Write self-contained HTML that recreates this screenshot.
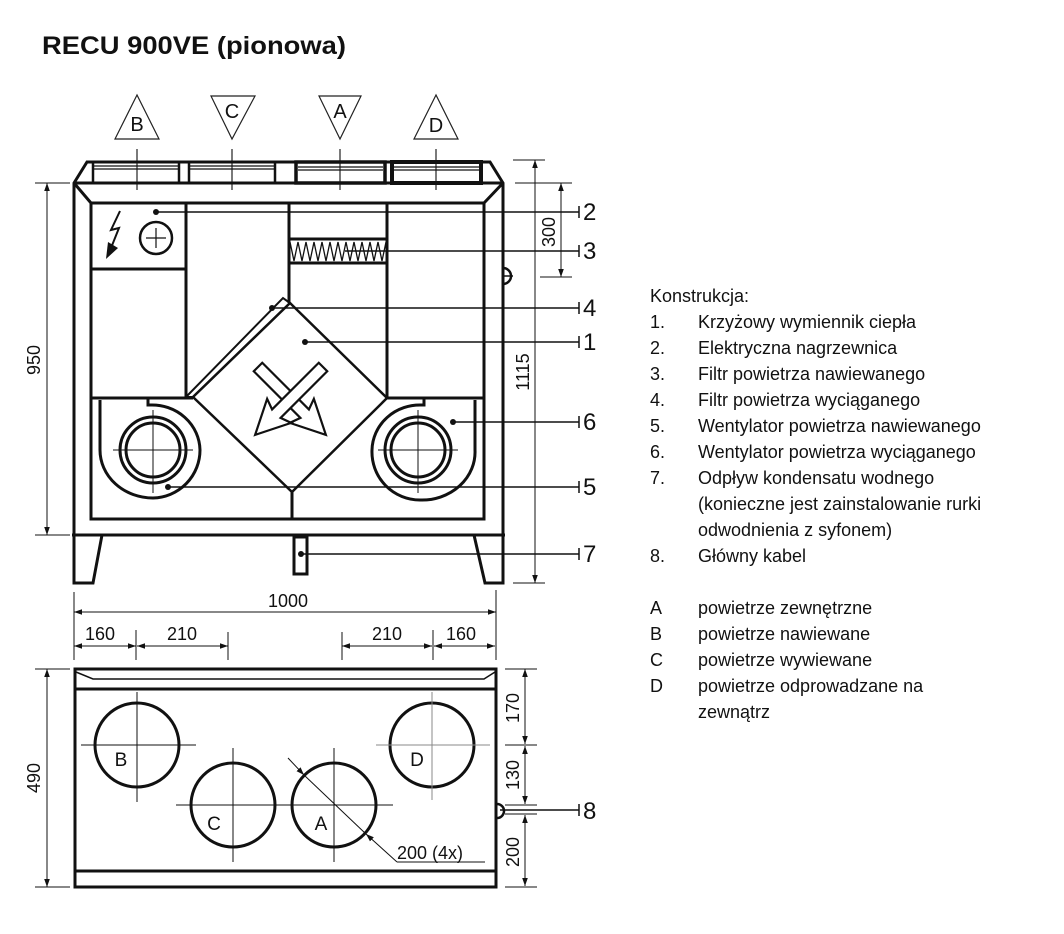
<!DOCTYPE html>
<html><head><meta charset="utf-8"><style>
html,body{margin:0;padding:0;background:#fff}
svg{display:block}
text{font-family:"Liberation Sans",sans-serif;fill:#111}
.lg{font-family:"Liberation Sans",sans-serif;font-size:18px;fill:#222}
</style></head><body>
<svg width="1064" height="934" viewBox="0 0 1064 934" xmlns="http://www.w3.org/2000/svg">
<defs>
<marker id="ar" viewBox="0 0 10 10" refX="10" refY="5" markerWidth="8" markerHeight="8" orient="auto-start-reverse" markerUnits="userSpaceOnUse"><path d="M0,1.5 L10,5 L0,8.5 z" fill="#111"/></marker>
</defs>
<text x="42" y="54" font-size="25" font-weight="bold" textLength="304" lengthAdjust="spacingAndGlyphs">RECU 900VE (pionowa)</text>

<g fill="none" stroke="#222" stroke-width="1.2">
<polygon points="137,95 115,139 159,139"/>
<polygon points="211,96 255,96 232,139"/>
<polygon points="319,96 361,96 340,139"/>
<polygon points="436,95 414,139 458,139"/>
<line x1="137" y1="149" x2="137" y2="190"/><line x1="232" y1="149" x2="232" y2="190"/>
<line x1="340" y1="149" x2="340" y2="190"/><line x1="436" y1="149" x2="436" y2="190"/>
</g>
<g font-size="20" text-anchor="middle"><text x="137" y="131">B</text><text x="232" y="118">C</text><text x="340" y="118">A</text><text x="436" y="132">D</text></g>

<g fill="none" stroke="#111" stroke-width="3">
<polyline points="74,535 74,183 87,162 490,162 503,183 503,535"/>
<line x1="74" y1="183" x2="503" y2="183"/>
<line x1="72" y1="535" x2="505" y2="535"/>
<line x1="74" y1="183" x2="91" y2="203"/><line x1="503" y1="183" x2="484" y2="203"/>
<rect x="91" y="203" width="393" height="316"/>
<rect x="93" y="162" width="86" height="21" stroke-width="2.5"/>
<rect x="189" y="162" width="86" height="21" stroke-width="2.5"/>
<rect x="296" y="162" width="89" height="21" stroke-width="3.5"/>
<rect x="392" y="162" width="89" height="21" stroke-width="4"/>
<polyline points="74,535 74,583 93,583 102,535"/>
<polyline points="503,535 503,583 485,583 474,535"/>
<rect x="294" y="537" width="13" height="37"/>
<line x1="186" y1="203" x2="186" y2="398"/>
<line x1="91" y1="269" x2="186" y2="269"/>
<line x1="289" y1="203" x2="289" y2="303"/>
<line x1="387" y1="203" x2="387" y2="398"/>
<line x1="91" y1="398" x2="193" y2="398"/>
<line x1="387" y1="398" x2="484" y2="398"/>
<rect x="289" y="239" width="98" height="24" stroke-width="3"/>
<polygon points="290,303 387,398 292,492 193,397" stroke-width="2.5"/>
<line x1="292" y1="492" x2="292" y2="519"/>
<polygon points="186,397 283,298 290,303 193,397" stroke-width="2"/>
</g>
<g fill="none" stroke="#111" stroke-width="1.2">
<line x1="94" y1="166" x2="178" y2="166"/><line x1="94" y1="169" x2="178" y2="169"/>
<line x1="190" y1="166" x2="274" y2="166"/><line x1="190" y1="169" x2="274" y2="169"/>
<line x1="298" y1="167" x2="383" y2="167"/><line x1="298" y1="170" x2="383" y2="170"/>
<line x1="394" y1="167" x2="479" y2="167"/><line x1="394" y1="170" x2="479" y2="170"/>
</g>
<polyline points="290,242 294,261 298,242 302,261 306,242 310,261 314,242 318,261 322,242 326,261 330,242 334,261 338,242 342,261 346,242 350,261 354,242 358,261 362,242 366,261 370,242 374,261 378,242 382,261 386,242" fill="none" stroke="#111" stroke-width="1.3"/>

<circle cx="156" cy="238" r="16" fill="none" stroke="#111" stroke-width="2.5"/>
<line x1="146" y1="238" x2="166" y2="238" stroke="#111" stroke-width="1.2"/><line x1="156" y1="228" x2="156" y2="248" stroke="#111" stroke-width="1.2"/>
<polyline points="120,211 111,230 119,228 111,248" fill="none" stroke="#111" stroke-width="2"/>
<polygon points="106,259 108,242 118,248" fill="#111"/>

<g fill="none" stroke="#111" stroke-width="3">
<path d="M100,400 L100,450 A53,48 0 0 0 153,498 A48,48 0 0 0 200,450 A48,46 0 0 0 150,405 L148,405 L148,398"/>
<circle cx="153" cy="450" r="33"/><circle cx="153" cy="450" r="27"/>
<path d="M475,400 L475,450 A53,48 0 0 1 420,500 A48,48 0 0 1 372,450 A48,46 0 0 1 422,405 L424,405 L424,398"/>
<circle cx="418" cy="450" r="33"/><circle cx="418" cy="450" r="27"/>
</g>
<g stroke="#111" stroke-width="1">
<line x1="113" y1="450" x2="193" y2="450"/><line x1="153" y1="410" x2="153" y2="493"/>
<line x1="378" y1="450" x2="458" y2="450"/><line x1="418" y1="410" x2="418" y2="493"/>
</g>
<g fill="#fff" stroke="#111" stroke-width="2.2">
<polygon transform="translate(258,367) rotate(45)" points="0,-6 66,-6 62,-17 96,0 62,17 66,6 0,6"/>
<polygon transform="translate(323,367) rotate(135)" points="0,-6 66,-6 62,-17 96,0 62,17 66,6 0,6"/>
</g>
<path d="M503,268 A8,8 0 0 1 503,284" fill="none" stroke="#111" stroke-width="2.5"/>
<line x1="503" y1="276" x2="513" y2="276" stroke="#111" stroke-width="1.5"/>

<g stroke="#111" stroke-width="1.5">
<line x1="156" y1="212" x2="579" y2="212"/><line x1="579" y1="206" x2="579" y2="218"/>
<line x1="345" y1="251" x2="579" y2="251"/><line x1="579" y1="245" x2="579" y2="257"/>
<line x1="272" y1="308" x2="579" y2="308"/><line x1="579" y1="302" x2="579" y2="314"/>
<line x1="305" y1="342" x2="579" y2="342"/><line x1="579" y1="336" x2="579" y2="348"/>
<line x1="453" y1="422" x2="579" y2="422"/><line x1="579" y1="416" x2="579" y2="428"/>
<line x1="168" y1="487" x2="579" y2="487"/><line x1="579" y1="481" x2="579" y2="493"/>
<line x1="301" y1="554" x2="579" y2="554"/><line x1="579" y1="548" x2="579" y2="560"/>
</g>
<g fill="#111"><circle cx="156" cy="212" r="3"/><circle cx="272" cy="308" r="3"/><circle cx="305" cy="342" r="3"/><circle cx="453" cy="422" r="3"/><circle cx="168" cy="487" r="3"/><circle cx="301" cy="554" r="3"/></g>
<g font-size="24"><text x="583" y="220">2</text><text x="583" y="259">3</text><text x="583" y="316">4</text><text x="583" y="350">1</text><text x="583" y="430">6</text><text x="583" y="495">5</text><text x="583" y="562">7</text></g>

<g stroke="#111" stroke-width="1">
<line x1="35" y1="183" x2="70" y2="183"/><line x1="35" y1="535" x2="70" y2="535"/>
<line x1="47" y1="183" x2="47" y2="535" marker-start="url(#ar)" marker-end="url(#ar)"/>
<line x1="513" y1="160" x2="545" y2="160"/><line x1="513" y1="583" x2="545" y2="583"/>
<line x1="535" y1="160" x2="535" y2="583" marker-start="url(#ar)" marker-end="url(#ar)"/>
<line x1="515" y1="183" x2="572" y2="183"/><line x1="540" y1="277" x2="572" y2="277"/>
<line x1="561" y1="183" x2="561" y2="277" marker-start="url(#ar)" marker-end="url(#ar)"/>
</g>
<g font-size="18" text-anchor="middle">
<text transform="translate(40,360) rotate(-90)">950</text>
<text transform="translate(529,372) rotate(-90)">1115</text>
<text transform="translate(555,232) rotate(-90)">300</text>
</g>

<g stroke="#111" stroke-width="1">
<line x1="74" y1="592" x2="74" y2="660"/><line x1="496" y1="590" x2="496" y2="660"/>
<line x1="74" y1="612" x2="496" y2="612" marker-start="url(#ar)" marker-end="url(#ar)"/>
<line x1="136" y1="630" x2="136" y2="660"/><line x1="228" y1="632" x2="228" y2="660"/>
<line x1="342" y1="632" x2="342" y2="660"/><line x1="433" y1="630" x2="433" y2="660"/>
<line x1="74" y1="646" x2="136" y2="646" marker-start="url(#ar)" marker-end="url(#ar)"/>
<line x1="137" y1="646" x2="228" y2="646" marker-start="url(#ar)" marker-end="url(#ar)"/>
<line x1="342" y1="646" x2="432" y2="646" marker-start="url(#ar)" marker-end="url(#ar)"/>
<line x1="434" y1="646" x2="495" y2="646" marker-start="url(#ar)" marker-end="url(#ar)"/>
</g>
<g font-size="18" text-anchor="middle">
<text x="288" y="607">1000</text>
<text x="100" y="640">160</text><text x="182" y="640">210</text>
<text x="387" y="640">210</text><text x="461" y="640">160</text>
</g>

<g fill="none" stroke="#111">
<rect x="75" y="669" width="421" height="218" stroke-width="3"/>
<line x1="75" y1="689" x2="496" y2="689" stroke-width="3"/>
<line x1="75" y1="871" x2="496" y2="871" stroke-width="3"/>
<polyline points="76,672 93,679 484,679 495,672" stroke-width="1.5"/>
<circle cx="137" cy="745" r="42" stroke-width="3"/>
<circle cx="233" cy="805" r="42" stroke-width="3"/>
<circle cx="334" cy="805" r="42" stroke-width="3"/>
<circle cx="432" cy="745" r="42" stroke-width="3"/>
<path d="M497,804 A7,7 0 0 1 497,818" stroke-width="2.5"/>
</g>
<g stroke="#111" stroke-width="1">
<line x1="81" y1="745" x2="196" y2="745"/><line x1="137" y1="692" x2="137" y2="802"/>
<line x1="176" y1="805" x2="393" y2="805"/><line x1="233" y1="748" x2="233" y2="862"/>
<line x1="334" y1="748" x2="334" y2="862"/>
<line x1="376" y1="745" x2="490" y2="745" stroke="#888"/><line x1="432" y1="692" x2="432" y2="800" stroke="#888"/>
<line x1="288" y1="758" x2="304" y2="775" marker-end="url(#ar)"/>
<line x1="397" y1="862" x2="366" y2="834" marker-end="url(#ar)"/>
<line x1="304" y1="775" x2="366" y2="834"/>
<line x1="397" y1="862" x2="485" y2="862"/>
<line x1="500" y1="810" x2="579" y2="810" stroke-width="1.5"/><line x1="579" y1="804" x2="579" y2="816" stroke-width="1.5"/>
</g>
<g font-size="19" text-anchor="middle">
<text x="121" y="766">B</text><text x="214" y="830">C</text><text x="321" y="830">A</text><text x="417" y="766">D</text>
</g>
<text x="397" y="859" font-size="18">200 (4x)</text>
<text x="583" y="819" font-size="24">8</text>

<g stroke="#111" stroke-width="1">
<line x1="35" y1="669" x2="70" y2="669"/><line x1="35" y1="887" x2="70" y2="887"/>
<line x1="47" y1="669" x2="47" y2="887" marker-start="url(#ar)" marker-end="url(#ar)"/>
<line x1="505" y1="669" x2="537" y2="669"/><line x1="505" y1="745" x2="537" y2="745"/>
<line x1="505" y1="805" x2="537" y2="805"/><line x1="505" y1="814" x2="537" y2="814"/>
<line x1="505" y1="887" x2="537" y2="887"/>
<line x1="525" y1="669" x2="525" y2="744" marker-start="url(#ar)" marker-end="url(#ar)"/>
<line x1="525" y1="746" x2="525" y2="804" marker-start="url(#ar)" marker-end="url(#ar)"/>
<line x1="525" y1="815" x2="525" y2="886" marker-start="url(#ar)" marker-end="url(#ar)"/>
</g>
<g font-size="18" text-anchor="middle">
<text transform="translate(40,778) rotate(-90)">490</text>
<text transform="translate(519,708) rotate(-90)">170</text>
<text transform="translate(519,775) rotate(-90)">130</text>
<text transform="translate(519,852) rotate(-90)">200</text>
</g>

<g class="lg">
<text x="650" y="302">Konstrukcja:</text>
<text x="650" y="328">1.</text><text x="698" y="328">Krzyżowy wymiennik ciepła</text>
<text x="650" y="354">2.</text><text x="698" y="354">Elektryczna nagrzewnica</text>
<text x="650" y="380">3.</text><text x="698" y="380">Filtr powietrza nawiewanego</text>
<text x="650" y="406">4.</text><text x="698" y="406">Filtr powietrza wyciąganego</text>
<text x="650" y="432">5.</text><text x="698" y="432">Wentylator powietrza nawiewanego</text>
<text x="650" y="458">6.</text><text x="698" y="458">Wentylator powietrza wyciąganego</text>
<text x="650" y="484">7.</text><text x="698" y="484">Odpływ kondensatu wodnego</text>
<text x="698" y="510">(konieczne jest zainstalowanie rurki</text>
<text x="698" y="536">odwodnienia z syfonem)</text>
<text x="650" y="562">8.</text><text x="698" y="562">Główny kabel</text>
<text x="650" y="614">A</text><text x="698" y="614">powietrze zewnętrzne</text>
<text x="650" y="640">B</text><text x="698" y="640">powietrze nawiewane</text>
<text x="650" y="666">C</text><text x="698" y="666">powietrze wywiewane</text>
<text x="650" y="692">D</text><text x="698" y="692">powietrze odprowadzane na</text>
<text x="698" y="718">zewnątrz</text>
</g>
</svg>
</body></html>
